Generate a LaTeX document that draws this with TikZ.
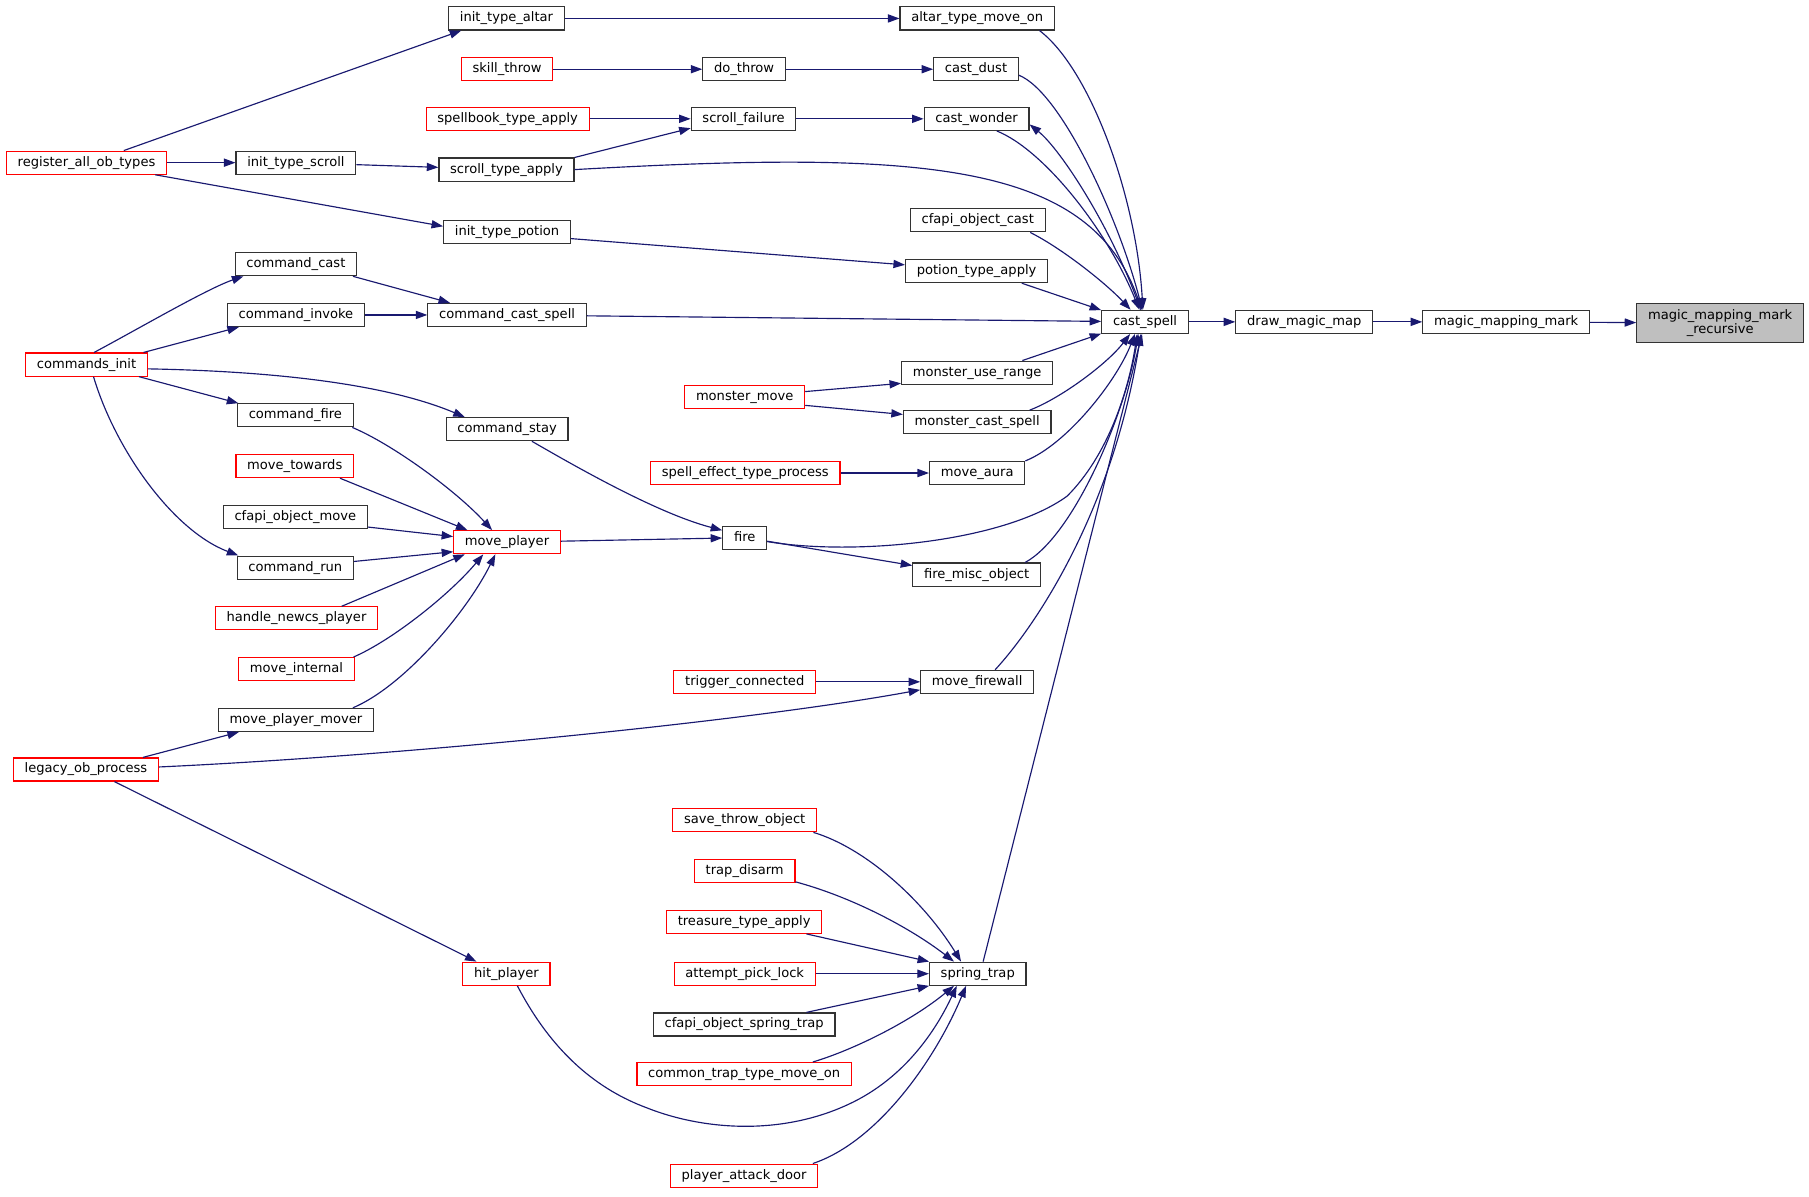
\documentclass[tikz,border=0pt]{standalone}
\usepackage{fontspec}
\setmainfont{DejaVu Sans}
\usepackage{tikz}
\usetikzlibrary{arrows.meta}
\definecolor{edgeblue}{HTML}{191970}
\definecolor{boxgrey}{HTML}{BFBFBF}

\begin{document}
\begin{tikzpicture}[x=0.75pt,y=0.75pt,yscale=-1,xscale=1,
  boxbase/.style={draw=black!80,line width=0.75pt,fill=white,inner xsep=7.3pt,inner ysep=0pt,font=\fontsize{8.5}{9.5}\selectfont},
  callbox/.style={boxbase,minimum height=15pt,text height=6.4pt,text depth=1.9pt},
  redbox/.style={callbox,draw=red},
  mainbox/.style={boxbase,fill=boxgrey,align=center,minimum height=25.5pt},
  call/.style={draw=edgeblue,line width=0.75pt,-{Triangle[length=7.5pt,width=5.3pt]}}]
\useasboundingbox (0,0) rectangle (1568,1037);

% Nodes, right part
\node[mainbox] (mmrec) at (1491,280) {magic\_mapping\_mark\\\_recursive};
\node[callbox] (mmmark) at (1305.5,279) {magic\_mapping\_mark};
\node[callbox] (drawmap) at (1130.5,279) {draw\_magic\_map};
\node[callbox] (castspell) at (992.5,279) {cast\_spell};

% Nodes calling cast_spell
\node[callbox] (altarmove) at (847,16) {altar\_type\_move\_on};
\node[callbox] (castdust) at (846,60) {cast\_dust};
\node[callbox] (castwonder) at (846.5,103) {cast\_wonder};
\node[callbox] (cfapicast) at (847.5,191) {cfapi\_object\_cast};
\node[callbox] (potionapply) at (846.5,235) {potion\_type\_apply};
\node[callbox] (monsteruse) at (847,323) {monster\_use\_range};
\node[callbox] (monstercast) at (847,366) {monster\_cast\_spell};
\node[callbox] (moveaura) at (847,410) {move\_aura};
\node[callbox] (firemisc) at (846.5,498) {fire\_misc\_object};
\node[callbox] (movefirewall) at (847,591) {move\_firewall};
\node[callbox] (springtrap) at (847.5,844) {spring\_trap};

% Middle column
\node[callbox] (dothrow) at (645,60) {do\_throw};
\node[callbox] (scrollfail) at (644.5,103) {scroll\_failure};
\node[callbox] (fire) at (645.5,466) {fire};
\node[redbox] (monstermove) at (645.5,344) {monster\_move};
\node[redbox] (spelleffect) at (646,410) {spell\_effect\_type\_process};
\node[redbox] (triggerconn) at (645.5,591) {trigger\_connected};
\node[redbox] (savethrow) at (645.5,711) {save\_throw\_object};
\node[redbox] (trapdisarm) at (645.5,755) {trap\_disarm};
\node[redbox] (treasureapply) at (645,799) {treasure\_type\_apply};
\node[redbox] (picklock) at (645.5,844) {attempt\_pick\_lock};
\node[callbox] (cfapitrap) at (645,888) {cfapi\_object\_spring\_trap};
\node[redbox] (commontrap) at (645,931) {common\_trap\_type\_move\_on};
\node[redbox] (attackdoor) at (645,1019) {player\_attack\_door};

% Column around x=440
\node[callbox] (initaltar) at (439,16) {init\_type\_altar};
\node[redbox] (skillthrow) at (439.5,60) {skill\_throw};
\node[redbox] (spellbook) at (440,103) {spellbook\_type\_apply};
\node[callbox] (scrollapply) at (439,147) {scroll\_type\_apply};
\node[callbox] (initpotion) at (439.5,201) {init\_type\_potion};
\node[callbox] (cmdcastspell) at (439.5,273) {command\_cast\_spell};
\node[callbox] (cmdstay) at (439.5,372) {command\_stay};
\node[redbox] (moveplayer) at (439.5,470) {move\_player};
\node[redbox] (hitplayer) at (439,844) {hit\_player};

% Column around x=256
\node[callbox] (initscroll) at (256.5,141) {init\_type\_scroll};
\node[callbox] (cmdcast) at (256.5,229) {command\_cast};
\node[callbox] (cmdinvoke) at (256.5,273) {command\_invoke};
\node[callbox] (cmdfire) at (256,360) {command\_fire};
\node[redbox] (movetowards) at (255.5,404) {move\_towards};
\node[callbox] (cfapimove) at (256,448) {cfapi\_object\_move};
\node[callbox] (cmdrun) at (256,492) {command\_run};
\node[redbox] (newcsplayer) at (257,536) {handle\_newcs\_player};
\node[redbox] (moveinternal) at (257,580) {move\_internal};
\node[callbox] (playermover) at (256.5,624) {move\_player\_mover};

% Left column
\node[redbox] (registertypes) at (75,141) {register\_all\_ob\_types};
\node[redbox] (cmdsinit) at (75,316) {commands\_init};
\node[redbox] (legacyprocess) at (74.5,667) {legacy\_ob\_process};

% Edges into cast_spell and onwards
\draw[call] (mmmark) -- (mmrec);
\draw[call] (drawmap) -- (mmmark);
\draw[call] (castspell) -- (drawmap);
\draw[call] (altarmove.-11) .. controls (945,60) and (985,170) .. (castspell.100);
\draw[call] (castdust.-8) .. controls (920,80) and (970,190) .. (castspell.103);
\draw[call] (castwonder.-31) .. controls (905,130) and (960,200) .. (castspell.115);
\draw[call] (castspell.110) .. controls (965,200) and (920,130) .. (castwonder.-6);
\draw[call] (scrollapply.east) .. controls (800,130) and (945,140) .. (castspell.105);
\draw[call] (cfapicast.-13) .. controls (920,215) and (958,245) .. (castspell.140);
\draw[call] (potionapply.-15) -- (castspell.165);
\draw[call] (cmdcastspell) -- (castspell);
\draw[call] (monsteruse.15) -- (castspell.-165);
\draw[call] (monstercast.13) .. controls (920,345) and (960,315) .. (castspell.-141);
\draw[call] (moveaura.north east) .. controls (925,385) and (968,330) .. (castspell.-130);
\draw[call] (fire.-10) .. controls (740,482) and (870,470) .. (925,430) .. controls (960,395) and (978,340) .. (castspell.-123);
\draw[call] (firemisc.14) .. controls (930,465) and (975,360) .. (castspell.-119);
\draw[call] (movefirewall.34) .. controls (900,540) and (965,440) .. (castspell.-109);
\draw[call] (springtrap.66) -- (castspell.-104);

% Edges, middle
\draw[call] (initaltar) -- (altarmove);
\draw[call] (skillthrow) -- (dothrow);
\draw[call] (dothrow) -- (castdust);
\draw[call] (spellbook) -- (scrollfail);
\draw[call] (scrollapply.north east) -- (scrollfail.-170);
\draw[call] (scrollfail) -- (castwonder);
\draw[call] (registertypes.18) -- (initaltar.-165);
\draw[call] (registertypes) -- (initscroll);
\draw[call] (registertypes.-10) -- (initpotion.175);
\draw[call] (initscroll) -- (scrollapply);
\draw[call] (initpotion.-6) -- (potionapply.175);
\draw[call] (cmdcast.-12) -- (cmdcastspell.168);
\draw[call] (cmdinvoke) -- (cmdcastspell);
\draw[call] (cmdsinit.58) .. controls (120,285) and (180,250) .. (cmdcast.-167);
\draw[call] (cmdsinit.12) -- (cmdinvoke.-168);
\draw[call] (cmdsinit.-13) -- (cmdfire.168);
\draw[call] (cmdsinit.-4) .. controls (250,322) and (340,335) .. (cmdstay.164);
\draw[call] (cmdsinit.-60) .. controls (100,390) and (150,460) .. (cmdrun.168);
\draw[call] (cmdstay.-26) .. controls (500,405) and (570,445) .. (fire.162);
\draw[call] (moveplayer) -- (fire);
\draw[call] (fire.-9) -- (firemisc.172);
\draw[call] (monstermove.5) -- (monsteruse.-172);
\draw[call] (monstermove.-8) -- (monstercast.174);
\draw[call] (spelleffect) -- (moveaura);

% Edges into move_player
\draw[call] (cmdfire.-12) .. controls (340,385) and (395,425) .. (moveplayer.141);
\draw[call] (movetowards.-15) -- (moveplayer.163);
\draw[call] (cfapimove.-8) -- (moveplayer.174);
\draw[call] (cmdrun.6) -- (moveplayer.-170);
\draw[call] (newcsplayer.15) -- (moveplayer.-164);
\draw[call] (moveinternal.12) .. controls (340,555) and (390,515) .. (moveplayer.-153);
\draw[call] (playermover.12) .. controls (350,595) and (405,530) .. (moveplayer.-134);

% Edges, lower part
\draw[call] (legacyprocess.12) -- (playermover.-168);
\draw[call] (legacyprocess.2) .. controls (350,655) and (650,625) .. (movefirewall.-172);
\draw[call] (legacyprocess.-23) -- (hitplayer.158);
\draw[call] (triggerconn) -- (movefirewall);
\draw[call] (hitplayer.-48) .. controls (480,915) and (520,945) .. (560,960) .. controls (610,980) and (680,985) .. (740,955) .. controls (790,930) and (815,885) .. (springtrap.-150);
\draw[call] (savethrow.-10) .. controls (750,735) and (800,780) .. (springtrap.144);
\draw[call] (trapdisarm.-12) .. controls (740,778) and (790,805) .. (springtrap.153);
\draw[call] (treasureapply.-11) -- (springtrap.166);
\draw[call] (picklock) -- (springtrap);
\draw[call] (cfapitrap.11) -- (springtrap.-166);
\draw[call] (commontrap.10) .. controls (740,910) and (790,885) .. (springtrap.-153);
\draw[call] (attackdoor.10) .. controls (760,990) and (810,920) .. (springtrap.-134);

\end{tikzpicture}
\end{document}
